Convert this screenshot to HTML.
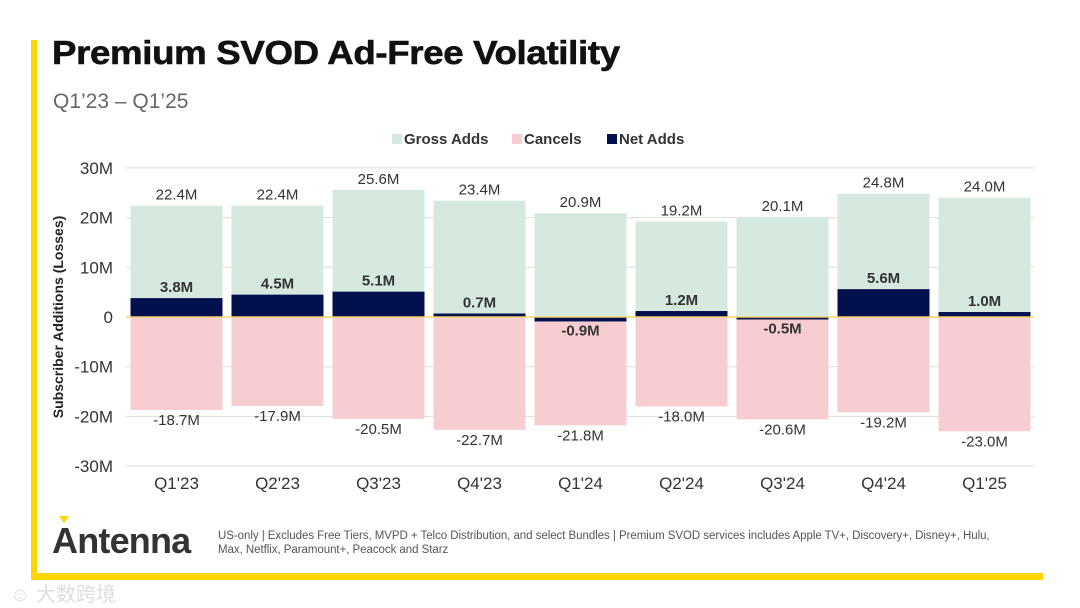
<!DOCTYPE html>
<html><head><meta charset="utf-8">
<style>
body{margin:0;width:1080px;height:608px;background:#fff;font-family:"Liberation Sans",sans-serif;position:relative;overflow:hidden}
.abs{position:absolute}
</style></head><body>
<div class="abs" style="left:31px;top:40px;width:6px;height:540px;background:#FFD500"></div>
<div class="abs" style="left:31px;top:573px;width:1012px;height:7px;background:#FFD500"></div>
<div class="abs" style="left:52px;top:34px;font-size:33px;font-weight:bold;color:#111;letter-spacing:-0.3px;transform:scaleX(1.11);transform-origin:left top;-webkit-text-stroke:0.6px #111">Premium SVOD Ad-Free Volatility</div>
<div class="abs" style="left:53px;top:90px;font-size:21px;color:#666">Q1’23 – Q1’25</div>
<div class="abs" style="left:52px;top:520px;font-size:36px;font-weight:bold;color:#333;letter-spacing:-0.8px">Antenna</div>
<div class="abs" style="left:59px;top:516px;width:0;height:0;border-left:5px solid transparent;border-right:5px solid transparent;border-top:7px solid #FFD500"></div>
<div class="abs" style="left:218px;top:529px;font-size:11.5px;color:#555;line-height:14px;width:810px;letter-spacing:-0.05px">US-only | Excludes Free Tiers, MVPD + Telco Distribution, and select Bundles | Premium SVOD services includes Apple TV+, Discovery+, Disney+, Hulu,<br>Max, Netflix, Paramount+, Peacock and Starz</div>
<div class="abs" style="left:10px;top:578px;font-size:20px;color:#ddd;font-family:'Liberation Sans','Noto Sans CJK SC',sans-serif">☺ 大数跨境</div>
<svg id="chart" class="abs" style="left:0;top:0" width="1080" height="608"></svg>
<script>
const categories=["Q1'23","Q2'23","Q3'23","Q4'23","Q1'24","Q2'24","Q3'24","Q4'24","Q1'25"];
const grossAdds=[22.4,22.4,25.6,23.4,20.9,19.2,20.1,24.8,24.0];
const cancels=[-18.7,-17.9,-20.5,-22.7,-21.8,-18.0,-20.6,-19.2,-23.0];
const netAdds=[3.8,4.5,5.1,0.7,-0.9,1.2,-0.5,5.6,1.0];
const yTicks=[30,20,10,0,-10,-20,-30];
const yTickLabels=["30M","20M","10M","0","-10M","-20M","-30M"];
const NS="http://www.w3.org/2000/svg";
const svg=document.getElementById('chart');
const x0=126,band=101,bw=92;
const y=v=>317-v*4.97;
const xc=i=>x0+band*i+band/2;
function mk(t,a,txt){const e=document.createElementNS(NS,t);for(const k in a)e.setAttribute(k,a[k]);if(txt!==undefined)e.textContent=txt;svg.appendChild(e);return e;}
yTicks.forEach((t,i)=>{
 const g=mk('line',{x1:x0,x2:1034,y1:y(t),y2:y(t),stroke:'#ddd','stroke-width':1});
 
 
 const l=mk('text',{x:113,y:y(t)+6,'text-anchor':'end','font-size':17,fill:'#333','font-family':'Liberation Sans'},yTickLabels[i]);
 
 
});
const yt=mk('text',{transform:'translate(63,317) rotate(-90)','text-anchor':'middle','font-size':14,'font-weight':'bold',fill:'#222','font-family':'Liberation Sans'},'Subscriber Additions (Losses)');


categories.forEach((c,i)=>{
 const bx=xc(i)-bw/2;
 const g=mk('rect',{x:bx,y:y(grossAdds[i]),width:bw,height:y(0)-y(grossAdds[i]),fill:'#D6E9DF'});
 
 
 const cn=mk('rect',{x:bx,y:y(0),width:bw,height:y(cancels[i])-y(0),fill:'#F7CDD2'});
 
 
 const n=netAdds[i];
 const nb=mk('rect',{x:bx,y:Math.min(y(n),y(0)),width:bw,height:Math.abs(y(n)-y(0)),fill:'#03104E'});
 
 
 const gl=mk('text',{x:xc(i),y:y(grossAdds[i])-6,'text-anchor':'middle','font-size':15,fill:'#333','font-family':'Liberation Sans'},grossAdds[i].toFixed(1)+'M');
 
 
 const cl=mk('text',{x:xc(i),y:y(cancels[i])+15,'text-anchor':'middle','font-size':15,fill:'#333','font-family':'Liberation Sans'},cancels[i].toFixed(1)+'M');
 
 
 const nly=n>=0?y(n)-6:y(n)+14;
 const nl=mk('text',{x:xc(i),y:nly,'text-anchor':'middle','font-size':15,'font-weight':'bold',fill:'#333','font-family':'Liberation Sans'},n.toFixed(1)+'M');
 
 
 const xl=mk('text',{x:xc(i),y:489,'text-anchor':'middle','font-size':17,fill:'#333','font-family':'Liberation Sans'},c);
 
 
});
const zl=mk('line',{x1:x0,x2:1034,y1:y(0),y2:y(0),stroke:'#F2D36B','stroke-width':1.5});


const leg=[['Gross Adds','#D6E9DF',392],['Cancels','#F7CDD2',512],['Net Adds','#03104E',607]];
leg.forEach(l=>{
 const r=mk('rect',{x:l[2],y:134,width:10,height:10,fill:l[1]});
 
 
 const t=mk('text',{x:l[2]+12,y:144,'font-size':15,'font-weight':'bold',fill:'#333','font-family':'Liberation Sans'},l[0]);
 
 
});
</script>
</body></html>
